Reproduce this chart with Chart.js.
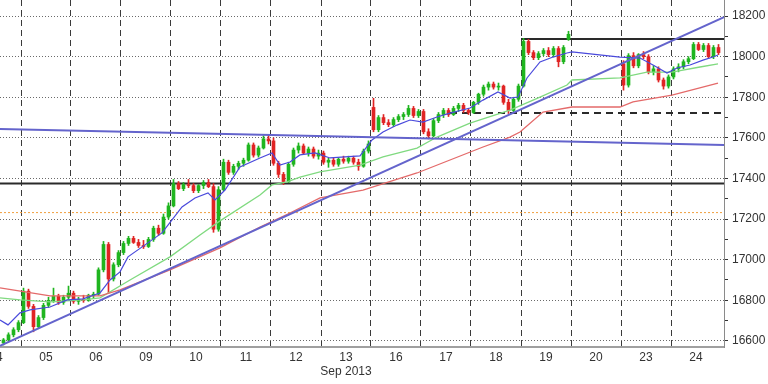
<!DOCTYPE html>
<html>
<head>
<meta charset="utf-8">
<script src="https://cdn.jsdelivr.net/npm/chart.js@4/dist/chart.umd.min.js"></script>
<style>
  html, body { margin: 0; padding: 0; background: #fff; }
  #wrap { width: 768px; height: 384px; position: relative; }
</style>
</head>
<body>
<div id="wrap"><canvas id="chart"></canvas></div>
<script>
// trading days on the axis, each day is one unit wide on x
const dayLabels = ['04', '05', '06', '09', '10', '11', '12', '13', '16', '17', '18', '19', '20', '23', '24'];
const monthLabel = 'Sep 2013';
const monthUnder = '13';
const barsPerDay = 10;
// runs of bars (slot = day * barsPerDay + bar), day 20 has no bars
const runStart = [6, 130];
const runLength = [114, 20];

// open, high, low, close
const ohlc = [
  [16590,16612,16580,16605],[16605,16640,16598,16630],[16630,16665,16620,16655],[16655,16700,16645,16690],
  // 05
  [16690,16860,16685,16845],[16845,16855,16760,16770],[16770,16780,16645,16670],[16670,16725,16660,16715],[16715,16785,16705,16775],
  [16775,16815,16765,16800],[16800,16860,16790,16820],[16820,16830,16780,16790],[16790,16825,16780,16815],[16815,16870,16805,16835],
  // 06
  [16835,16845,16785,16795],[16795,16815,16780,16805],[16805,16825,16790,16800],[16800,16830,16795,16825],[16825,16840,16810,16830],
  [16830,16960,16825,16950],[16950,17090,16940,17075],[17075,17085,16835,16905],[16905,16985,16895,16975],[16975,17045,16965,17035],
  // 09
  [17035,17090,17025,17080],[17080,17115,17070,17105],[17105,17115,17080,17085],[17085,17100,17060,17070],[17070,17095,17055,17065],
  [17065,17110,17060,17100],[17100,17165,17090,17155],[17155,17170,17120,17130],[17130,17225,17125,17210],[17210,17280,17200,17265],
  // 10
  [17265,17395,17260,17375],[17375,17385,17345,17350],[17350,17380,17340,17370],[17370,17395,17355,17365],[17365,17375,17330,17340],
  [17340,17370,17330,17365],[17365,17390,17350,17380],[17380,17395,17355,17360],[17360,17375,17135,17150],[17150,17360,17140,17345],
  // 11
  [17345,17495,17340,17480],[17480,17490,17420,17430],[17430,17470,17420,17460],[17460,17485,17445,17475],[17475,17500,17460,17490],
  [17490,17575,17485,17565],[17565,17575,17505,17515],[17515,17560,17505,17550],[17550,17610,17545,17595],[17595,17615,17570,17585],
  // 12
  [17585,17600,17465,17475],[17475,17485,17405,17420],[17420,17430,17370,17385],[17385,17480,17380,17470],[17470,17550,17460,17540],
  [17540,17575,17525,17560],[17560,17570,17520,17525],[17525,17555,17510,17545],[17545,17555,17500,17510],[17510,17540,17495,17525],
  // 13
  [17525,17535,17470,17480],[17480,17500,17455,17490],[17490,17500,17460,17470],[17470,17500,17460,17495],[17495,17510,17475,17485],
  [17485,17510,17475,17500],[17500,17510,17470,17480],[17480,17495,17440,17460],[17460,17545,17455,17535],[17535,17585,17525,17570],
  // 16
  [17750,17795,17630,17640],[17640,17710,17630,17700],[17700,17715,17665,17675],[17675,17690,17655,17665],[17665,17700,17655,17690],
  [17690,17715,17680,17705],[17705,17725,17690,17715],[17715,17760,17705,17745],[17745,17755,17700,17710],[17710,17740,17700,17730],
  // 17
  [17730,17740,17620,17630],[17630,17645,17595,17610],[17610,17695,17605,17685],[17685,17725,17675,17715],[17715,17745,17700,17735],
  [17735,17745,17705,17715],[17715,17755,17710,17745],[17745,17770,17730,17760],[17760,17770,17725,17735],[17735,17745,17715,17725],
  // 18
  [17725,17780,17720,17775],[17775,17820,17765,17815],[17815,17860,17805,17850],[17850,17875,17835,17865],[17865,17875,17840,17850],
  [17850,17870,17835,17855],[17855,17860,17765,17775],[17775,17790,17720,17735],[17735,17800,17725,17790],[17790,17865,17780,17855],
  // 19
  [17855,18090,17850,18075],[18075,18085,18010,18020],[18020,18030,17985,17995],[17995,18025,17985,18015],[18015,18040,18005,18030],
  [18030,18045,18000,18010],[18010,18050,18000,18040],[18040,18050,17950,17975],[17975,18055,17965,18045],[18085,18125,18080,18110],
  // 23
  [17965,17980,17835,17860],[17860,18015,17850,18005],[18005,18020,17945,17955],[17955,18015,17945,18010],[18010,18025,17990,18000],
  [18000,18010,17915,17925],[17925,17955,17910,17940],[17940,17950,17875,17885],[17885,17895,17840,17855],[17855,17910,17845,17900],
  // 24
  [17900,17950,17890,17940],[17940,17965,17925,17950],[17950,17985,17940,17975],[17975,18000,17965,17990],[17990,18070,17985,18060],
  [18060,18070,18030,18035],[18035,18065,18025,18055],[18055,18065,17990,18000],[18000,18055,17990,18045],[18045,18060,18010,18020]
];

// moving averages, x in day units
const fastMaX = [0.58,0.74,0.98,1.18,1.58,1.92,2.24,2.58,2.78,2.98,3.14,3.48,3.82,4.02,4.22,4.48,4.74,4.88,5.08,5.38,5.78,6.02,6.18,6.38,6.58,6.88,7.18,7.78,8.02,8.24,8.52,8.78,9.04,9.32,9.58,9.98,10.24,10.54,10.78,10.94,11.12,11.38,11.64,11.92,12.02,12.98,13.38,13.64,13.92,14.12,14.38,14.64,14.84,14.94];
const fastMaY = [16703,16679,16738,16753,16767,16802,16807,16836,16900,16940,17014,17073,17132,17196,17260,17304,17329,17294,17343,17457,17501,17526,17466,17481,17516,17526,17501,17511,17590,17629,17663,17688,17678,17703,17722,17747,17786,17826,17796,17801,17895,17974,17998,18018,18023,17998,17993,17959,17919,17944,17959,17983,17998,18008];
const midMaX = [0.58,0.98,1.58,2.24,2.58,3.18,3.98,4.58,4.98,5.78,6.02,6.32,6.58,6.98,7.78,8.24,8.92,9.32,9.98,10.78,11.38,11.92,12.02,12.98,13.52,14.02,14.58,14.94];
const midMaY = [16812,16802,16792,16802,16812,16900,17014,17122,17191,17319,17368,17383,17407,17432,17466,17506,17550,17604,17673,17737,17801,17860,17885,17895,17924,17924,17949,17964];
const slowMaX = [0.58,1.58,2.58,2.98,3.98,4.98,5.78,6.38,6.98,7.84,8.92,9.58,10.24,10.78,10.98,11.44,12.02,12.98,13.24,14.02,14.94];
const slowMaY = [16861,16822,16822,16851,16950,17058,17161,17230,17304,17343,17427,17491,17555,17604,17629,17727,17752,17752,17777,17811,17870];

// drawn trend lines and levels
const upTrendX = [0.58, 15.06];
const upTrendY = [16576, 18195];
const downTrendX = [0.58, 15.06];
const downTrendY = [17644, 17565];
const supportLevel = 17375;
const orangeLevel = 17232;
const dashedLevel = 17722;
const dashedFrom = 9.58;
const topLevel = 18087;
const topFrom = 11.0;

const priceTicks = [16600, 16800, 17000, 17200, 17400, 17600, 17800, 18000, 18200];
const xMin = 0.58, xMax = 15.06;
const yMin = 16570, yMax = 18279;

const GREEN = '#1fb51f', RED = '#e02424', TREND = '#6464cc';
const FONT = { family: 'Liberation Sans', size: 12 };

var slots = [];
runStart.forEach(function (s, r) {
  for (var i = 0; i < runLength[r]; i++) slots.push(s + i);
});
var barX = slots.map(function (s) { return (s + 0.5) / barsPerDay; });
var barColors = ohlc.map(function (r) { return r[3] >= r[0] ? GREEN : RED; });
var wickData = ohlc.map(function (r, i) { return { x: barX[i], y: [r[2], r[1]] }; });
var bodyData = ohlc.map(function (r, i) { return { x: barX[i], y: [Math.min(r[0], r[3]), Math.max(r[0], r[3])] }; });

function pts(xs, ys) {
  return xs.map(function (x, i) { return { x: x, y: ys[i] }; });
}
function lineSet(data, color, width, dash, order) {
  return {
    type: 'line', data: data, borderColor: color, borderWidth: width, borderDash: dash || [],
    pointRadius: 0, fill: false, tension: 0, order: order
  };
}

var minorTicks = [];
priceTicks.forEach(function (v, i) {
  minorTicks.push(v);
  if (i < priceTicks.length - 1) minorTicks.push((v + priceTicks[i + 1]) / 2);
});

var ctx = document.getElementById('chart');
var chart = new Chart(ctx, {
  type: 'bar',
  data: {
    datasets: [
      lineSet(pts([xMin, xMax], [supportLevel, supportLevel]), '#2a2a2a', 2, null, 6),
      lineSet(pts([xMin, xMax], [orangeLevel, orangeLevel]), '#f0a040', 1, [2, 2], 6),
      lineSet(pts([dashedFrom, xMax], [dashedLevel, dashedLevel]), '#2a2a2a', 2, [7, 5], 6),
      lineSet(pts([topFrom, xMax], [topLevel, topLevel]), '#2a2a2a', 2, null, 6),
      { data: wickData, backgroundColor: barColors, barThickness: 1, grouped: false, order: 5 },
      { data: bodyData, backgroundColor: barColors, barThickness: 3, grouped: false, minBarLength: 1, order: 4 },
      lineSet(pts(slowMaX, slowMaY), '#e46a6a', 1.3, null, 3),
      lineSet(pts(midMaX, midMaY), '#80da80', 1.3, null, 3),
      lineSet(pts(fastMaX, fastMaY), '#4a4adc', 1.2, null, 2),
      lineSet(pts(upTrendX, upTrendY), TREND, 2, null, 1),
      lineSet(pts(downTrendX, downTrendY), TREND, 2, null, 1)
    ]
  },
  options: {
    responsive: true,
    maintainAspectRatio: false,
    animation: false,
    layout: { padding: 0 },
    plugins: { legend: { display: false }, tooltip: { enabled: false } },
    scales: {
      x: {
        type: 'linear', min: xMin, max: xMax, offset: false,
        afterBuildTicks: function (axis) {
          var t = [];
          for (var k = 0; k < dayLabels.length; k++) {
            if (k > 0) t.push({ value: k });
            t.push({ value: k + 0.5 });
          }
          axis.ticks = t;
        },
        afterFit: function (axis) { axis.height = 37; axis.paddingLeft = 0; axis.paddingRight = 0; },
        grid: {
          offset: false, drawTicks: false, lineWidth: 1,
          color: function (c) { return c.tick && Number.isInteger(c.tick.value) ? '#3a3a3a' : 'rgba(0,0,0,0)'; }
        },
        border: { display: true, color: '#a0a0a0', width: 2, dash: [6, 4] },
        ticks: {
          autoSkip: false, maxRotation: 0, padding: 3, color: '#333', font: FONT,
          callback: function (v) {
            if (Number.isInteger(v)) return '';
            var lab = dayLabels[Math.floor(v)];
            return lab === monthUnder ? [lab, monthLabel] : lab;
          }
        }
      },
      y: {
        type: 'linear', position: 'right', min: yMin, max: yMax,
        afterBuildTicks: function (axis) {
          axis.ticks = minorTicks.map(function (v) { return { value: v }; });
        },
        afterFit: function (axis) { axis.width = 44; axis.paddingTop = 0; axis.paddingBottom = 0; },
        grid: {
          lineWidth: 1, tickLength: 4, tickColor: '#333',
          color: function (c) { return c.tick && priceTicks.indexOf(c.tick.value) >= 0 ? '#6a6a6a' : 'rgba(0,0,0,0)'; }
        },
        border: { display: true, color: '#8a8a8a', width: 1, dash: [1, 2] },
        ticks: {
          padding: 4, color: '#333', font: FONT,
          callback: function (v) { return priceTicks.indexOf(v) >= 0 ? String(v) : ''; }
        }
      }
    }
  }
});
</script>
</body>
</html>
